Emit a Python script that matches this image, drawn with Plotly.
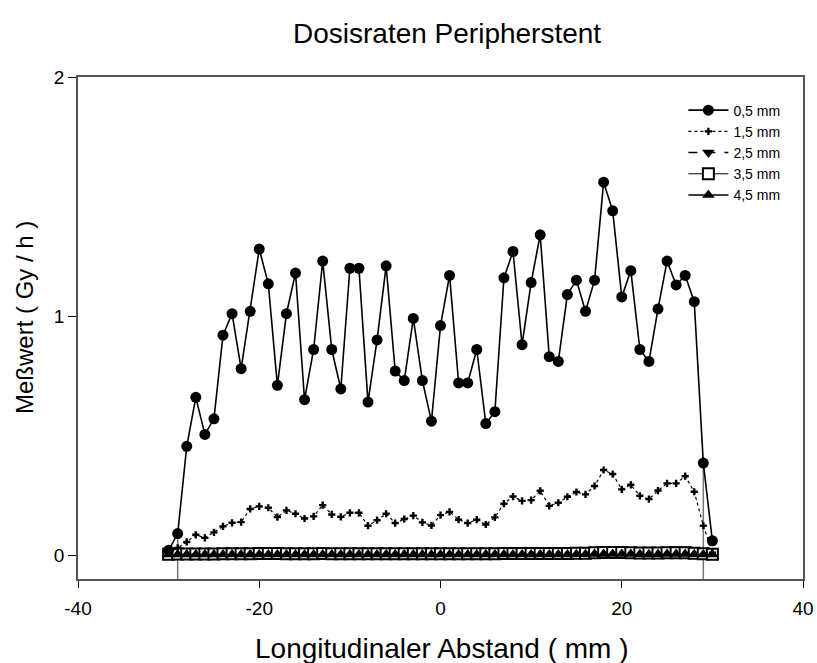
import plotly.graph_objects as go

x_mm = list(range(-30, 31))

d05 = [0.02, 0.09, 0.455, 0.66, 0.505, 0.57, 0.92, 1.01, 0.78, 1.02,
       1.28, 1.135, 0.71, 1.01, 1.18, 0.65, 0.86, 1.23, 0.86, 0.695,
       1.20, 1.20, 0.64, 0.90, 1.21, 0.77, 0.73, 0.99, 0.73, 0.56,
       0.96, 1.17, 0.72, 0.72, 0.86, 0.55, 0.60, 1.16, 1.27, 0.88,
       1.14, 1.34, 0.83, 0.81, 1.09, 1.15, 1.02, 1.15, 1.56, 1.44,
       1.08, 1.19, 0.86, 0.81, 1.03, 1.23, 1.13, 1.17, 1.06, 0.385,
       0.06]

d15 = [0.01, 0.03, 0.055, 0.085, 0.072, 0.095, 0.12, 0.135, 0.138, 0.193,
       0.204, 0.198, 0.159, 0.187, 0.173, 0.153, 0.162, 0.209, 0.17, 0.16,
       0.177, 0.177, 0.123, 0.146, 0.173, 0.134, 0.151, 0.165, 0.137, 0.124,
       0.167, 0.181, 0.148, 0.134, 0.148, 0.128, 0.158, 0.215, 0.245, 0.227,
       0.23, 0.269, 0.206, 0.219, 0.244, 0.264, 0.254, 0.289, 0.356, 0.339,
       0.275, 0.294, 0.248, 0.234, 0.27, 0.30, 0.30, 0.33, 0.265, 0.123,
       0.01]

d25 = [0.006, 0.008, 0.008, 0.007, 0.008, 0.008, 0.008, 0.009, 0.009, 0.010,
       0.012, 0.014, 0.013, 0.012, 0.011, 0.012, 0.013, 0.012, 0.011, 0.010,
       0.011, 0.011, 0.010, 0.010, 0.009, 0.010, 0.011, 0.013, 0.011, 0.010,
       0.012, 0.012, 0.011, 0.010, 0.010, 0.011, 0.012, 0.013, 0.014, 0.013,
       0.012, 0.012, 0.013, 0.014, 0.014, 0.015, 0.016, 0.022, 0.026, 0.024,
       0.025, 0.022, 0.018, 0.017, 0.020, 0.022, 0.024, 0.023, 0.018, 0.010,
       0.006]

d35 = [0.004, 0.005, 0.005, 0.005, 0.005, 0.005, 0.006, 0.006, 0.006, 0.006,
       0.007, 0.007, 0.007, 0.006, 0.006, 0.006, 0.006, 0.007, 0.006, 0.006,
       0.006, 0.006, 0.006, 0.006, 0.006, 0.006, 0.006, 0.006, 0.006, 0.006,
       0.006, 0.006, 0.006, 0.006, 0.006, 0.006, 0.006, 0.007, 0.007, 0.007,
       0.007, 0.007, 0.007, 0.007, 0.007, 0.008, 0.008, 0.010, 0.011, 0.011,
       0.011, 0.010, 0.009, 0.009, 0.009, 0.010, 0.010, 0.010, 0.008, 0.006,
       0.004]

d45 = [0.002, 0.002, 0.002, 0.002, 0.002, 0.002, 0.003, 0.003, 0.003, 0.003,
       0.003, 0.003, 0.003, 0.003, 0.003, 0.003, 0.003, 0.003, 0.003, 0.003,
       0.003, 0.003, 0.003, 0.003, 0.003, 0.003, 0.003, 0.003, 0.003, 0.003,
       0.003, 0.003, 0.003, 0.003, 0.003, 0.003, 0.003, 0.003, 0.003, 0.003,
       0.003, 0.003, 0.003, 0.003, 0.003, 0.004, 0.004, 0.005, 0.005, 0.005,
       0.005, 0.005, 0.004, 0.004, 0.004, 0.005, 0.005, 0.005, 0.004, 0.003,
       0.002]

drop_x = [-29, 29]

x_ticks = [-40, -20, 0, 20, 40]
x_tick_text = ["-40", "-20", "0", "20", "40"]
y_ticks = [0, 1, 2]

title_text = "Dosisraten Peripherstent"
x_title = "Longitudinaler Abstand ( mm )"
y_title = "Meßwert ( Gy / h )"

FONT = "Liberation Sans, Arial, sans-serif"
AX = "#555555"
W, H = 817, 663
ML, MR, MT, MB = 78, 14, 77, 84
PW, PH = W - ML - MR, H - MT - MB

fig = go.Figure()

y_min = -0.1
for xd in drop_x:
    yd = d05[x_mm.index(xd)]
    fig.add_trace(go.Scatter(x=[xd, xd], y=[y_min, yd], mode="lines",
                             line=dict(color="#777777", width=1.5),
                             showlegend=False, hoverinfo="skip"))

fig.add_trace(go.Scatter(x=x_mm, y=d25, name="2,5 mm", mode="lines+markers",
                         line=dict(color="black", width=1.5, dash="dash"),
                         marker=dict(symbol="triangle-down", size=11, color="black")))
fig.add_trace(go.Scatter(x=x_mm, y=d35, name="3,5 mm", mode="lines+markers",
                         line=dict(color="black", width=1),
                         marker=dict(symbol="square", size=11, color="white",
                                     line=dict(color="black", width=2))))
fig.add_trace(go.Scatter(x=x_mm, y=d45, name="4,5 mm", mode="lines+markers",
                         line=dict(color="black", width=1.5),
                         marker=dict(symbol="triangle-up", size=11, color="black")))
fig.add_trace(go.Scatter(x=x_mm, y=d15, name="1,5 mm", mode="lines+markers",
                         line=dict(color="black", width=1.2, dash="dot"),
                         marker=dict(symbol="cross", size=6, color="black")))
fig.add_trace(go.Scatter(x=x_mm, y=d05, name="0,5 mm", mode="lines+markers",
                         line=dict(color="black", width=1.6),
                         marker=dict(symbol="circle", size=11, color="black")))

legend_rank = {"0,5 mm": 1, "1,5 mm": 2, "2,5 mm": 3, "3,5 mm": 4, "4,5 mm": 5}
for tr in fig.data:
    if tr.name in legend_rank:
        tr.legendrank = legend_rank[tr.name]

annotations = [
    dict(text=title_text, xref="paper", yref="paper",
         x=(447 - ML) / PW, y=1 + (MT - 33) / PH, xanchor="center", yanchor="middle",
         showarrow=False, font=dict(size=28)),
    dict(text=x_title, xref="paper", yref="paper",
         x=(442 - ML) / PW, y=-(666 - (H - MB)) / PH,
         xanchor="center", yanchor="bottom",
         showarrow=False, font=dict(size=28)),
    dict(text=y_title, xref="paper", yref="paper", textangle=-90,
         x=(24 - ML) / PW, y=(H - MB - 318) / PH, xanchor="center", yanchor="middle",
         showarrow=False, font=dict(size=24)),
]

fig.update_layout(
    width=W, height=H,
    margin=dict(l=ML, r=MR, t=MT, b=MB, autoexpand=False),
    paper_bgcolor="white", plot_bgcolor="white",
    font=dict(family=FONT, color="black"),
    annotations=annotations,
    showlegend=True,
    legend=dict(x=0.835, y=0.965, xanchor="left", yanchor="top",
                traceorder="normal", font=dict(size=14), itemwidth=40,
                bgcolor="rgba(0,0,0,0)", tracegroupgap=0),
    xaxis=dict(range=[-40, 40], tickvals=x_ticks, ticktext=x_tick_text,
               ticks="outside", ticklen=7, automargin=False,
               tickcolor="black", showline=True, linecolor=AX, linewidth=1.5,
               mirror=True, showgrid=False, zeroline=False,
               tickfont=dict(size=19), ticklabelstandoff=4),
    yaxis=dict(range=[y_min, 2], tickvals=y_ticks, ticks="outside", ticklen=8,
               automargin=False,
               tickcolor="black", showline=True, linecolor=AX, linewidth=1.5,
               mirror=True, showgrid=False, zeroline=False,
               tickfont=dict(size=19)),
)

fig.write_html("out.html")
